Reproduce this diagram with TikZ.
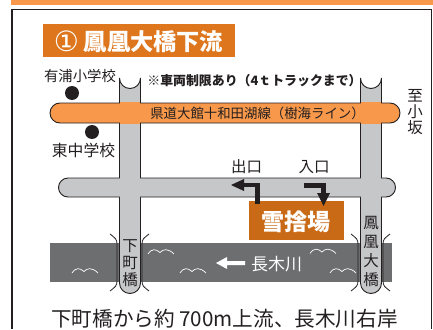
\documentclass[tikz,border=0pt]{standalone}
\usepackage{fontspec}
\setmainfont{Noto Sans CJK JP}
\newfontfamily\symfont{DejaVu Sans}
\definecolor{orangeband}{HTML}{F7984A}
\definecolor{titlebg}{HTML}{DD761C}
\definecolor{snowbg}{HTML}{C96A16}
\definecolor{roadgray}{HTML}{C6C7C9}
\definecolor{river}{HTML}{6D6E70}
\definecolor{ink}{HTML}{231F20}
\tikzset{
  road/.style={draw=ink,line width=0.9pt,fill=roadgray},
  lab/.style={text=ink,inner sep=0pt},
  vlab/.style={text=ink,inner sep=0pt,align=center},
  wave/.style={draw=white,line width=0.7pt},
  tick/.style={draw=ink,line width=0.8pt},
  flow/.style={draw=ink,line width=4.5pt},
}
\newcommand{\fs}[1]{\fontsize{#1}{#1}\selectfont}
\newcommand{\wavemark}[2]{\draw[wave,shift={(#1,#2)}] (0,0) .. controls (4,-6) and (8,-5) .. (12,-1.5) .. controls (15,-5) and (20,-6) .. (26,0);}
\begin{document}
\begin{tikzpicture}[x=1pt,y=-1pt]
\useasboundingbox (0,0) rectangle (433,329);
\fill[white] (0,0) rectangle (433,329);
\fill[orangeband] (11,0) rectangle (433,5);
\draw[draw=ink,line width=1.8pt] (12,329) -- (12,9.5) -- (431.5,9.5);
\draw[draw=ink,line width=0.8pt] (431.5,9.5) -- (431.5,329);
\node[fill=titlebg,minimum width=192pt,minimum height=33pt,inner sep=0pt] (title) at (139,40.5) {};
\node[text=white,inner sep=0pt,font=\symfont\fs{28}] (titlenum) at (66.5,41.5) {①};
\node[text=white,inner sep=0pt,font=\fs{23.2}\bfseries] (titlet) at (153.5,41.5) {鳳凰大橋下流};
% river
\fill[river] (50,243) rectangle (392,282);
\wavemark{148}{254}
\wavemark{72}{273}
\wavemark{180}{273}
\wavemark{310}{253.5}
\wavemark{330}{273}
% roads
\draw[road] (119.5,283) -- (119.5,78) arc[start angle=180,end angle=0,radius=10.5] -- (140.5,283) arc[start angle=0,end angle=180,radius=10.5] -- cycle;
\draw[road] (360.5,283) -- (360.5,78) arc[start angle=180,end angle=0,radius=10.5] -- (381.5,283) arc[start angle=0,end angle=180,radius=10.5] -- cycle;
\draw[road] (68,178) -- (386,178) arc[start angle=-90,end angle=90,radius=9.5] -- (68,197) arc[start angle=90,end angle=270,radius=9.5] -- cycle;
\fill[roadgray] (120,177) rectangle (140,198);
\fill[roadgray] (361,177) rectangle (381,198);
\draw[draw=ink,line width=0.9pt,fill=orangeband] (60,103) -- (390,103) arc[start angle=-90,end angle=90,radius=10] -- (60,123) arc[start angle=90,end angle=270,radius=10] -- cycle;
\fill[orangeband] (120,102) rectangle (140,124);
\fill[orangeband] (361,102) rectangle (381,124);
\node[lab,font=\fs{13.4}] (pref) at (257.5,113.5) {県道大館十和田湖線（樹海ライン）};
% bridge ticks
\draw[tick] (110,234) .. controls (115,238) and (117,239) .. (117,244) -- (117,281) .. controls (117,286) and (115,287) .. (110,291);
\draw[tick] (149,234) .. controls (144,238) and (142,239) .. (142,244) -- (142,281) .. controls (142,286) and (144,287) .. (149,291);
\draw[tick] (351,234) .. controls (356,238) and (358,239) .. (358,244) -- (358,281) .. controls (358,286) and (356,287) .. (351,291);
\draw[tick] (390,234) .. controls (385,238) and (383,239) .. (383,244) -- (383,281) .. controls (383,286) and (385,287) .. (390,291);
% labels
\node[lab,font=\fs{14.4}] (arika) at (80,76) {有浦小学校};
\node[lab,font=\fs{15.8}] (higashi) at (83.5,150.5) {東中学校};
\node[lab,font=\fs{12.9}\bfseries] (limit) at (254.5,80.5) {※車両制限あり（4ｔトラックまで）};
\node[vlab,font=\fs{15.5}] (shita) at (130,263) {下\\[1.5pt]町\\[1.5pt]橋};
\node[vlab,font=\fs{15.5}] (hoo) at (371,252) {鳳\\[3.5pt]凰\\[3.5pt]大\\[3.5pt]橋};
\node[vlab,font=\fs{15.5}] (kosaka) at (415,112.5) {至\\[0.5pt]小\\[0.5pt]坂};
\node[circle,fill=ink,minimum size=14pt,inner sep=0pt] (s1) at (72,93) {};
\node[circle,fill=ink,minimum size=14pt,inner sep=0pt] (s2) at (92,132) {};
\node[lab,font=\fs{15.5}] (exit) at (246.5,167) {出口};
\node[lab,font=\fs{15.5}] (enter) at (314,167) {入口};
% snow
\node[fill=snowbg,minimum width=95pt,minimum height=39pt,inner sep=0pt] (snow) at (296.5,220.5) {};
\node[text=white,inner sep=0pt,font=\fs{23}\bfseries] (snowt) at (296,222) {雪捨場};
\coordinate (e1) at (257.5,204);
\coordinate (e2) at (257.5,185);
\coordinate (e3) at (242,185);
\draw[flow] (e1) -- (e2) -- (e3);
\fill[ink] (231,185) -- (244,179) -- (244,191) -- cycle;
\coordinate (i1) at (304,185.5);
\coordinate (i2) at (323.5,185.5);
\coordinate (i3) at (323.5,196);
\draw[flow] (i1) -- (i2) -- (i3);
\fill[ink] (323.5,206) -- (317,193) -- (330,193) -- cycle;
% river label
\fill[white] (216,263) -- (227,257) -- (227,261) -- (245,261) -- (245,265) -- (227,265) -- (227,269) -- cycle;
\node[text=white,inner sep=0pt,font=\fs{17}] (naga) at (276.5,264) {長木川};
\node[text=ink,inner sep=0pt,font=\fs{20.6}] (note) at (224.5,318.5) {下町橋から約 700m上流、長木川右岸};
\end{tikzpicture}
\end{document}
